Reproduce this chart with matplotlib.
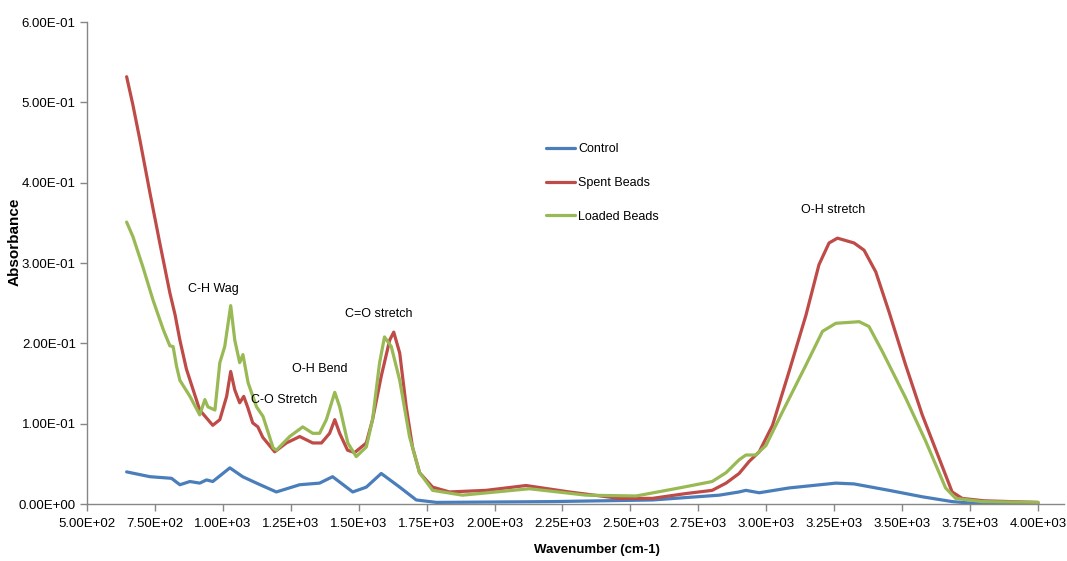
import matplotlib
matplotlib.use("Agg")
import matplotlib.pyplot as plt
from matplotlib.ticker import FuncFormatter, MultipleLocator

# FTIR absorbance spectra (wavenumber in cm-1)
control_x = [646, 732, 811, 842, 879, 915, 940, 963, 1026, 1073, 1124, 1197,
             1283, 1356, 1404, 1478, 1528, 1583, 1651, 1712, 1786, 2213, 2581,
             2827, 2900, 2925, 2974, 3084, 3256, 3323, 3452, 3574, 3684, 3794,
             4000]
control_y = [0.040, 0.034, 0.032, 0.024, 0.028, 0.026, 0.030, 0.028, 0.045,
             0.034, 0.026, 0.015, 0.024, 0.026, 0.034, 0.015, 0.021, 0.038,
             0.021, 0.005, 0.002, 0.003, 0.005, 0.011, 0.015, 0.017, 0.014,
             0.020, 0.026, 0.025, 0.017, 0.009, 0.003, 0.000, 0.001]

spent_x = [646, 669, 695, 732, 768, 805, 824, 842, 866, 915, 963, 989, 1014,
           1029, 1044, 1062, 1077, 1092, 1110, 1129, 1147, 1191, 1234, 1283,
           1331, 1363, 1393, 1412, 1430, 1459, 1485, 1528, 1551, 1583, 1614,
           1629, 1651, 1675, 1698, 1724, 1772, 1834, 1969, 2116, 2275, 2459,
           2581, 2704, 2801, 2852, 2900, 2937, 2974, 3023, 3084, 3146, 3194,
           3231, 3262, 3323, 3360, 3403, 3452, 3513, 3574, 3636, 3684, 3721,
           3800, 4000]
spent_y = [0.532, 0.497, 0.453, 0.387, 0.325, 0.263, 0.236, 0.204, 0.168,
           0.117, 0.098, 0.105, 0.134, 0.165, 0.142, 0.126, 0.134, 0.120,
           0.101, 0.096, 0.083, 0.065, 0.076, 0.084, 0.076, 0.076, 0.088,
           0.105, 0.088, 0.067, 0.064, 0.076, 0.105, 0.159, 0.204, 0.214,
           0.188, 0.121, 0.071, 0.039, 0.021, 0.015, 0.017, 0.023, 0.015,
           0.007, 0.007, 0.013, 0.017, 0.026, 0.038, 0.053, 0.065, 0.098,
           0.165, 0.235, 0.298, 0.325, 0.331, 0.325, 0.316, 0.289, 0.239,
           0.173, 0.111, 0.057, 0.015, 0.007, 0.004, 0.002]

loaded_x = [646, 669, 706, 743, 781, 805, 817, 830, 842, 879, 915, 934, 945,
            971, 989, 1007, 1029, 1044, 1062, 1074, 1093, 1124, 1148, 1185,
            1197, 1246, 1294, 1331, 1356, 1381, 1412, 1430, 1460, 1491, 1528,
            1551, 1577, 1595, 1620, 1651, 1687, 1724, 1772, 1882, 2128, 2337,
            2521, 2680, 2801, 2852, 2900, 2925, 2962, 2999, 3060, 3146, 3207,
            3256, 3342, 3378, 3427, 3513, 3587, 3660, 3697, 3794, 4000]
loaded_y = [0.351, 0.333, 0.295, 0.254, 0.217, 0.197, 0.196, 0.171, 0.154,
            0.134, 0.111, 0.130, 0.121, 0.117, 0.176, 0.196, 0.247, 0.204,
            0.176, 0.186, 0.151, 0.121, 0.109, 0.070, 0.067, 0.084, 0.096,
            0.088, 0.088, 0.105, 0.139, 0.121, 0.076, 0.059, 0.071, 0.105,
            0.176, 0.208, 0.196, 0.154, 0.084, 0.039, 0.017, 0.011, 0.019,
            0.011, 0.010, 0.020, 0.028, 0.039, 0.055, 0.061, 0.061, 0.073,
            0.115, 0.173, 0.215, 0.225, 0.227, 0.221, 0.190, 0.132, 0.078,
            0.020, 0.007, 0.003, 0.002]

series_names = ["Control", "Spent Beads", "Loaded Beads"]
series_colors = ["#4a7ebb", "#be4b48", "#98b954"]

band_labels = ["C-H Wag", "C-O Stretch", "O-H Bend", "C=O stretch", "O-H stretch"]
band_pos = [(967, 0.268), (1225, 0.129), (1357, 0.168), (1575, 0.237), (3245, 0.366)]

font = ["Liberation Sans", "DejaVu Sans"]

fig = plt.figure(figsize=(10.67, 5.61), dpi=100)
ax = fig.add_axes([0.0815, 0.1016, 0.9155, 0.859])

for xs, ys, name, col in zip([control_x, spent_x, loaded_x],
                             [control_y, spent_y, loaded_y],
                             series_names, series_colors):
    ax.plot(xs, ys, color=col, lw=2.3, label=name,
            solid_joinstyle="round", solid_capstyle="round")

for txt, (tx, ty) in zip(band_labels, band_pos):
    ax.text(tx, ty, txt, ha="center", va="center", fontsize=9,
            family=font, color="#000000")

ax.set_xlim(500, 4095)
ax.set_ylim(0, 0.6)
ax.set_xticks([500 + 250 * i for i in range(15)])
ax.yaxis.set_major_locator(MultipleLocator(0.1))


def sci(v, pos):
    return "%.2E" % v


ax.xaxis.set_major_formatter(FuncFormatter(sci))
ax.yaxis.set_major_formatter(FuncFormatter(sci))

for side in ["top", "right"]:
    ax.spines[side].set_visible(False)
for side in ["left", "bottom"]:
    ax.spines[side].set_color("#868686")
    ax.spines[side].set_linewidth(1.0)

ax.tick_params(axis="both", direction="out", length=5, width=1.0,
               color="#868686", labelsize=9.5)
ax.tick_params(axis="x", pad=5)
ax.tick_params(axis="y", pad=3)
for lab in ax.get_xticklabels() + ax.get_yticklabels():
    lab.set_family(font)

ax.set_xlabel("Wavenumber (cm-1)", fontsize=9.5, fontweight="bold", family=font)
ax.set_ylabel("Absorbance", fontsize=11, fontweight="bold", family=font)
ax.xaxis.set_label_coords(0.522, -0.082)
ax.yaxis.set_label_coords(-0.0665, 0.544)

leg = ax.legend(loc="upper left", bbox_to_anchor=(0.47, 0.749), frameon=False,
                prop={"family": font, "size": 9}, handlelength=2.3,
                handletextpad=0.25, labelspacing=1.75, borderpad=0,
                borderaxespad=0)

fig.savefig("out.png", dpi=100)
